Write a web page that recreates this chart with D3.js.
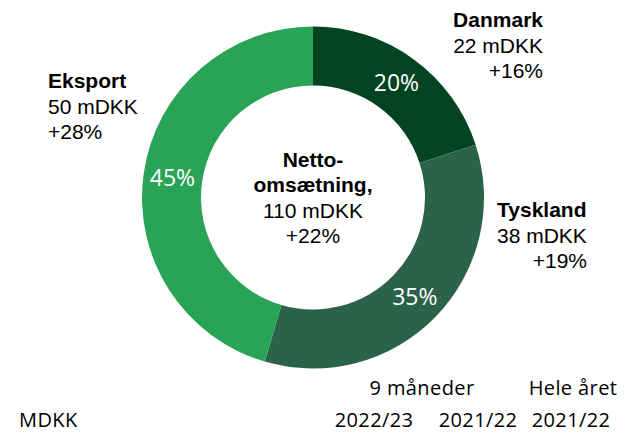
<!DOCTYPE html>
<html>
<head>
<meta charset="utf-8">
<script src="https://cdn.jsdelivr.net/npm/d3@7"></script>
<style>
  body { margin: 0; background: #fff; }
  svg { display: block; }
</style>
</head>
<body>
<div id="chart"></div>
<script>
// chart data
const REGIONS = ["Danmark", "Tyskland", "Eksport"];
const VALUES = [22, 38, 50];
const SHARES = ["20%", "35%", "45%"];
const AMOUNTS = ["22 mDKK", "38 mDKK", "50 mDKK"];
const GROWTH = ["+16%", "+19%", "+28%"];
const COLORS = ["#024421", "#2b634a", "#29a356"];
const TOTAL_LINES = ["Netto-", "omsætning,", "110 mDKK", "+22%"];
const PERIOD_HEADERS = ["9 måneder", "Hele året"];
const PERIOD_YEARS = ["2022/23", "2021/22", "2021/22"];
const UNIT_LABEL = "MDKK";

const FRAME_WIDTH = 624;
const FRAME_HEIGHT = 433;
const CX = 313;
const CY = 197.5;
const OUTER_R = 171;
const INNER_R = 112;

const LABEL_FONT = "'Liberation Sans', Arial, sans-serif";
const ROUND_FONT = "'Open Sans', sans-serif";

const FRAME = d3.select("#chart")
  .append("svg")
  .attr("width", FRAME_WIDTH)
  .attr("height", FRAME_HEIGHT);

const DATA = REGIONS.map((r, i) => ({ region: r, value: VALUES[i], share: SHARES[i] }));

const PIE = d3.pie().sort(null).value((d) => d.value);
const ARC = d3.arc().innerRadius(INNER_R).outerRadius(OUTER_R);
const LABEL_ARC = d3.arc().innerRadius(142).outerRadius(142);

const G = FRAME.append("g").attr("transform", "translate(" + CX + "," + CY + ")");

const COLOR = d3.scaleOrdinal().domain(REGIONS).range(COLORS);

G.selectAll("path")
  .data(PIE(DATA))
  .enter()
  .append("path")
  .attr("d", ARC)
  .attr("fill", (d) => COLOR(d.data.region));

// percent labels inside the ring
G.selectAll("text.pct")
  .data(PIE(DATA))
  .enter()
  .append("text")
  .attr("class", "pct")
  .attr("x", (d) => LABEL_ARC.centroid(d)[0])
  .attr("y", (d) => LABEL_ARC.centroid(d)[1])
  .attr("dy", "0.36em")
  .attr("text-anchor", "middle")
  .attr("fill", "#fff")
  .attr("font-family", ROUND_FONT)
  .attr("font-size", "23px")
  .text((d) => d.data.share);

// centre text
const CENTER = FRAME.append("text")
  .attr("text-anchor", "middle")
  .attr("font-family", LABEL_FONT)
  .attr("font-size", "21px")
  .attr("fill", "#000");
TOTAL_LINES.forEach((t, i) => {
  CENTER.append("tspan")
    .attr("x", CX)
    .attr("y", 166.5 + i * 25.5)
    .attr("font-weight", i < 2 ? "bold" : "normal")
    .text(t);
});

// outside labels: [x, first baseline, anchor]
const LABEL_POS = [
  [543, 27, "end"],
  [497, 217, "start"],
  [48, 88, "start"]
];

REGIONS.forEach((r, i) => {
  const p = LABEL_POS[i];
  const t = FRAME.append("text")
    .attr("font-family", LABEL_FONT)
    .attr("font-size", "21px")
    .attr("fill", "#000");
  if (p[2] === "end") {
    t.attr("text-anchor", "end");
    [r, AMOUNTS[i], GROWTH[i]].forEach((s, j) => {
      t.append("tspan").attr("x", p[0]).attr("y", p[1] + j * 25.5)
        .attr("font-weight", j === 0 ? "bold" : "normal").text(s);
    });
  } else {
    [r, AMOUNTS[i]].forEach((s, j) => {
      t.append("tspan").attr("x", p[0]).attr("y", p[1] + j * 25.5)
        .attr("font-weight", j === 0 ? "bold" : "normal").text(s);
    });
    if (i === 1) {
      // growth right aligned on the Tyskland block
      FRAME.append("text")
        .attr("font-family", LABEL_FONT).attr("font-size", "21px")
        .attr("text-anchor", "end")
        .attr("x", 587).attr("y", p[1] + 51)
        .text(GROWTH[i]);
    } else {
      t.append("tspan").attr("x", p[0]).attr("y", p[1] + 51).text(GROWTH[i]);
    }
  }
});

// table header at the bottom
const BOTTOM = FRAME.append("g")
  .attr("font-family", ROUND_FONT)
  .attr("font-size", "20px")
  .attr("letter-spacing", "0.4px")
  .attr("fill", "#000");

BOTTOM.append("text").attr("x", 19).attr("y", 427).text(UNIT_LABEL);

const HEADER_X = [422, 573];
PERIOD_HEADERS.forEach((h, i) => {
  BOTTOM.append("text").attr("x", HEADER_X[i]).attr("y", 395)
    .attr("text-anchor", "middle").text(h);
});

const YEAR_X = [374, 478, 571];
PERIOD_YEARS.forEach((y, i) => {
  BOTTOM.append("text").attr("x", YEAR_X[i]).attr("y", 427)
    .attr("text-anchor", "middle").text(y);
});
</script>
</body>
</html>
